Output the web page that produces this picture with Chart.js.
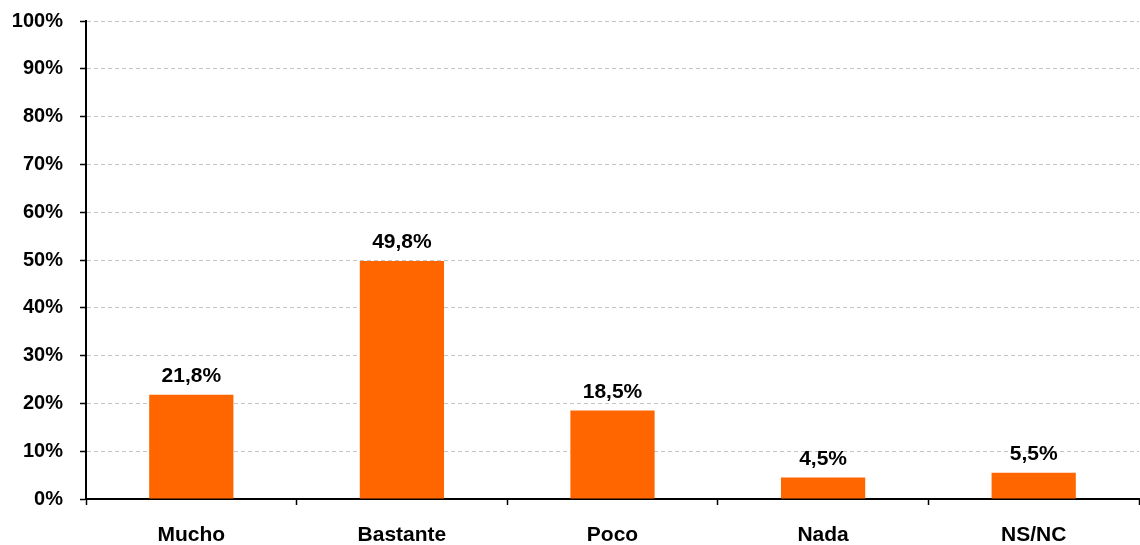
<!DOCTYPE html>
<html lang="es">
<head>
    <meta charset="UTF-8">
    <title>Mucho / Bastante / Poco / Nada</title>
    <script src="https://cdn.jsdelivr.net/npm/chart.js"></script>
    <style>
        html, body { margin: 0; padding: 0; background: #fff; overflow: hidden; }
        canvas { display: block; }
    </style>
</head>
<body>
    <canvas id="barChart" width="1140" height="545"></canvas>
    <script>
        const categories = ['Mucho', 'Bastante', 'Poco', 'Nada', 'NS/NC'];
        const values = [21.8, 49.8, 18.5, 4.5, 5.5];
        const valueLabels = ['21,8%', '49,8%', '18,5%', '4,5%', '5,5%'];
        const yTicks = [0, 10, 20, 30, 40, 50, 60, 70, 80, 90, 100];

        const FONT = '"Liberation Sans", Arial, sans-serif';

        // draws the value above each bar
        const valueLabelPlugin = {
            id: 'valueLabels',
            afterDatasetsDraw(chart) {
                const ctx = chart.ctx;
                const meta = chart.getDatasetMeta(0);
                ctx.save();
                ctx.font = 'bold 21px ' + FONT;
                ctx.fillStyle = '#000';
                ctx.textAlign = 'center';
                ctx.textBaseline = 'bottom';
                meta.data.forEach((bar, i) => {
                    ctx.fillText(valueLabels[i], bar.x, bar.y - 8);
                });
                ctx.restore();
            }
        };

        const ctx = document.getElementById('barChart').getContext('2d');
        new Chart(ctx, {
            type: 'bar',
            data: {
                labels: categories,
                datasets: [{
                    data: values,
                    backgroundColor: '#FF6600',
                    borderWidth: 0,
                    barPercentage: 0.4,
                    categoryPercentage: 1
                }]
            },
            options: {
                responsive: false,
                animation: false,
                devicePixelRatio: 1,
                layout: { padding: { top: 21, right: 1, left: 0, bottom: 0 } },
                plugins: {
                    legend: { display: false },
                    tooltip: { enabled: false }
                },
                scales: {
                    x: {
                        grid: {
                            offset: true,
                            drawOnChartArea: false,
                            tickLength: 6,
                            tickColor: '#000',
                            tickWidth: 1.5
                        },
                        border: { color: '#000', width: 2 },
                        ticks: {
                            color: '#000',
                            padding: 18,
                            autoSkip: false,
                            maxRotation: 0,
                            minRotation: 0,
                            font: { family: FONT, size: 21, weight: 'bold' }
                        },
                        afterFit(scale) { scale.height = 46; }
                    },
                    y: {
                        min: 0,
                        max: 100,
                        afterBuildTicks(scale) {
                            scale.ticks = yTicks.map(v => ({ value: v }));
                        },
                        grid: {
                            color: '#c4c4c4',
                            lineWidth: 1,
                            tickLength: 6,
                            tickColor: '#000',
                            tickWidth: 1.5,
                            tickBorderDash: []
                        },
                        border: { color: '#000', width: 2, dash: [4, 3] },
                        ticks: {
                            color: '#000',
                            padding: 17,
                            font: { family: FONT, size: 20, weight: 'bold' },
                            callback: v => v + '%'
                        },
                        afterFit(scale) {
                            scale.width = 86;
                            scale.paddingTop = 0;
                            scale.paddingBottom = 0;
                        }
                    }
                }
            },
            plugins: [valueLabelPlugin]
        });
    </script>
</body>
</html>
